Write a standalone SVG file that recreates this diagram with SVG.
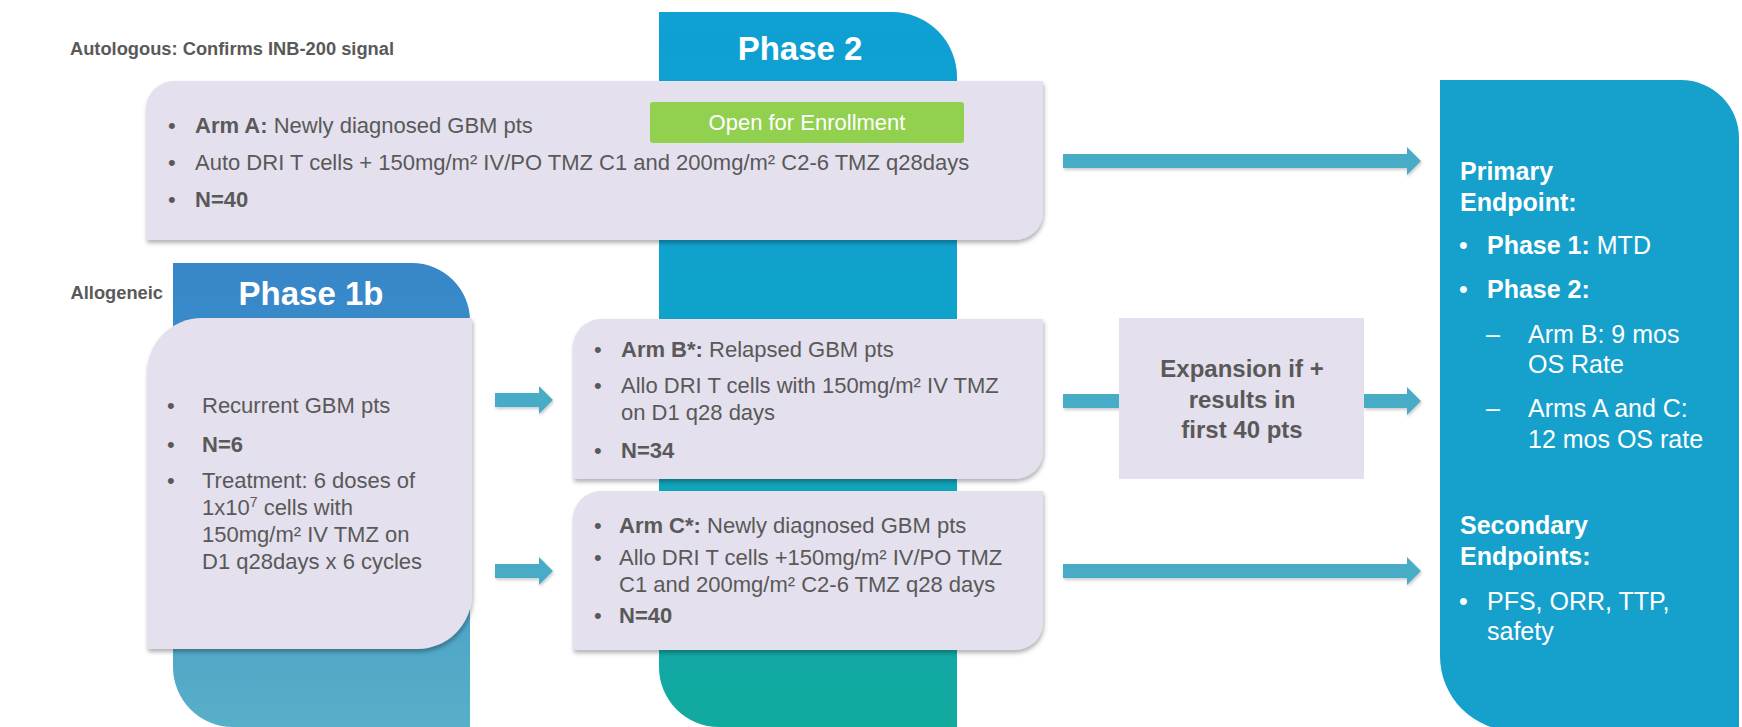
<svg xmlns="http://www.w3.org/2000/svg" width="1742" height="727" viewBox="0 0 1742 727">
<defs>
<style>
text{font-family:"Liberation Sans",Arial,Helvetica,sans-serif;}
.lbl{font-size:18.3px;font-weight:bold;fill:#595959;}
.hdr{font-size:33px;font-weight:bold;fill:#ffffff;text-anchor:middle;}
.body{font-size:22px;fill:#595959;}
.b{font-weight:bold;}
.box{fill:#e4e0ed;filter:url(#shadow);}
.arrow{fill:#4aacc6;filter:url(#ashadow);}
.ep{font-size:25px;fill:#ffffff;}
.exp{font-size:24px;font-weight:bold;fill:#595959;text-anchor:middle;}
.btn{font-size:22px;fill:#ffffff;text-anchor:middle;}
</style>
<linearGradient id="g2" x1="0" y1="0" x2="0" y2="1">
<stop offset="0" stop-color="#0fa0d4"/>
<stop offset="0.5" stop-color="#10a3c9"/>
<stop offset="1" stop-color="#12aa9d"/>
</linearGradient>
<linearGradient id="g1" x1="0" y1="0" x2="0" y2="1">
<stop offset="0" stop-color="#3787c9"/>
<stop offset="0.2" stop-color="#3a8cc9"/>
<stop offset="1" stop-color="#57afc8"/>
</linearGradient>
<filter id="shadow" x="-5%" y="-5%" width="110%" height="115%">
<feDropShadow dx="1" dy="3" stdDeviation="2" flood-color="#000" flood-opacity="0.3"/>
</filter>
<filter id="ashadow" x="-5%" y="-30%" width="110%" height="160%">
<feDropShadow dx="1" dy="2" stdDeviation="1.5" flood-color="#000" flood-opacity="0.2"/>
</filter>
</defs>
<rect width="1742" height="727" fill="#ffffff"/>

<g id="labels">
<text class="lbl" x="70" y="55">Autologous: Confirms INB-200 signal</text>
<text class="lbl" x="163" y="299" text-anchor="end">Allogeneic</text>
</g>

<g id="phase2-column">
<path d="M659,12 H892 A65,65 0 0 1 957,77 V727 H719 A60,60 0 0 1 659,667 Z" fill="url(#g2)"/>
<text class="hdr" x="800" y="60">Phase 2</text>
</g>

<g id="phase1b-column">
<path d="M173,263 H412 A58,58 0 0 1 470,321 V727 H233 A60,60 0 0 1 173,667 Z" fill="url(#g1)"/>
<text class="hdr" x="311" y="305">Phase 1b</text>
</g>

<g id="endpoints">
<path d="M1440,80 H1681 A58,58 0 0 1 1739,138 V731 H1515 A75,75 0 0 1 1440,656 Z" fill="#15a1cc"/>
<text class="ep b" x="1460" y="180">Primary</text>
<text class="ep b" x="1460" y="211">Endpoint:</text>
<text class="ep" x="1459" y="254">•</text>
<text class="ep" x="1487" y="254"><tspan class="b">Phase 1:</tspan> MTD</text>
<text class="ep" x="1459" y="298">•</text>
<text class="ep b" x="1487" y="298">Phase 2:</text>
<text class="ep" x="1486" y="343">–</text>
<text class="ep" x="1528" y="343">Arm B: 9 mos</text>
<text class="ep" x="1528" y="373">OS Rate</text>
<text class="ep" x="1486" y="417">–</text>
<text class="ep" x="1528" y="417">Arms A and C:</text>
<text class="ep" x="1528" y="448">12 mos OS rate</text>
<text class="ep b" x="1460" y="534">Secondary</text>
<text class="ep b" x="1460" y="565">Endpoints:</text>
<text class="ep" x="1459" y="610">•</text>
<text class="ep" x="1487" y="610">PFS, ORR, TTP,</text>
<text class="ep" x="1487" y="640">safety</text>
</g>

<g id="connectors">
<polygon class="arrow" points="1063,154 1407,154 1407,147 1421,161 1407,175 1407,168 1063,168"/>
<polygon class="arrow" points="495,393 539,393 539,386 553,400 539,414 539,407 495,407"/>
<polygon class="arrow" points="495,564 539,564 539,557 553,571 539,585 539,578 495,578"/>
<rect class="arrow" x="1063" y="394" width="58" height="14"/>
<polygon class="arrow" points="1364,394 1407,394 1407,387 1421,401 1407,415 1407,408 1364,408"/>
<polygon class="arrow" points="1063,564 1407,564 1407,557 1421,571 1407,585 1407,578 1063,578"/>
</g>

<g id="arm-a">
<path class="box" d="M174,81 H1043 V212 A28,28 0 0 1 1015,240 H146 V109 A28,28 0 0 1 174,81 Z"/>
<text class="body" x="168" y="133">•</text>
<text class="body" x="195" y="133"><tspan class="b">Arm A:</tspan> Newly diagnosed GBM pts</text>
<text class="body" x="168" y="170">•</text>
<text class="body" x="195" y="170">Auto DRI T cells + 150mg/m² IV/PO TMZ C1 and 200mg/m² C2-6 TMZ q28days</text>
<text class="body" x="168" y="207">•</text>
<text class="body b" x="195" y="207">N=40</text>
</g>

<g id="open-enrollment">
<rect x="650" y="102" width="314" height="41" rx="3" fill="#92d050"/>
<text class="btn" x="807" y="130">Open for Enrollment</text>
</g>

<g id="phase1b-box">
<path class="box" d="M202,318 H472 V594 A55,55 0 0 1 417,649 H147 V373 A55,55 0 0 1 202,318 Z"/>
<text class="body" x="167" y="413">•</text>
<text class="body" x="202" y="413">Recurrent GBM pts</text>
<text class="body" x="167" y="452">•</text>
<text class="body b" x="202" y="452">N=6</text>
<text class="body" x="167" y="488">•</text>
<text class="body" x="202" y="488">Treatment: 6 doses of</text>
<text class="body" x="202" y="515">1x10<tspan font-size="14" dy="-8">7</tspan><tspan dy="8"> cells with</tspan></text>
<text class="body" x="202" y="542">150mg/m² IV TMZ on</text>
<text class="body" x="202" y="569">D1 q28days x 6 cycles</text>
</g>

<g id="arm-b">
<path class="box" d="M601,319 H1043 V451 A28,28 0 0 1 1015,479 H573 V347 A28,28 0 0 1 601,319 Z"/>
<text class="body" x="594" y="357">•</text>
<text class="body" x="621" y="357"><tspan class="b">Arm B*:</tspan> Relapsed GBM pts</text>
<text class="body" x="594" y="393">•</text>
<text class="body" x="621" y="393">Allo DRI T cells with 150mg/m² IV TMZ</text>
<text class="body" x="621" y="420">on D1 q28 days</text>
<text class="body" x="594" y="458">•</text>
<text class="body b" x="621" y="458">N=34</text>
</g>

<g id="arm-c">
<path class="box" d="M601,491 H1043 V622 A28,28 0 0 1 1015,650 H573 V519 A28,28 0 0 1 601,491 Z"/>
<text class="body" x="594" y="533">•</text>
<text class="body" x="619" y="533"><tspan class="b">Arm C*:</tspan> Newly diagnosed GBM pts</text>
<text class="body" x="594" y="565">•</text>
<text class="body" x="619" y="565">Allo DRI T cells +150mg/m² IV/PO TMZ</text>
<text class="body" x="619" y="592">C1 and 200mg/m² C2-6 TMZ q28 days</text>
<text class="body" x="594" y="623">•</text>
<text class="body b" x="619" y="623">N=40</text>
</g>

<g id="expansion">
<rect x="1119" y="318" width="245" height="161" fill="#e4e0ed"/>
<text class="exp" x="1242" y="377">Expansion if +</text>
<text class="exp" x="1242" y="408">results in</text>
<text class="exp" x="1242" y="438">first 40 pts</text>
</g>
</svg>
